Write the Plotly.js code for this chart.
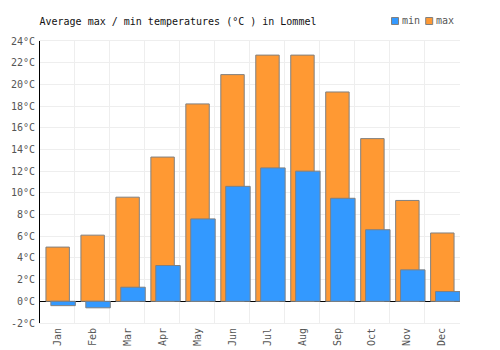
<!DOCTYPE html>
<html><head><meta charset="utf-8">
<script src="https://cdn.plot.ly/plotly-3.0.1.min.js"></script>
<style>body{margin:0;padding:0;background:#fff}#c{width:500px;height:350px}</style>
</head><body><div id="c"></div>
<script>
var months = ["Jan","Feb","Mar","Apr","May","Jun","Jul","Aug","Sep","Oct","Nov","Dec"];
var maxTemps = [5.0, 6.1, 9.6, 13.3, 18.2, 20.9, 22.7, 22.7, 19.3, 15.0, 9.3, 6.3];
var minTemps = [-0.4, -0.6, 1.3, 3.3, 7.6, 10.6, 12.3, 12.0, 9.5, 6.6, 2.9, 0.9];
var yTicks = [-2,0,2,4,6,8,10,12,14,16,18,20,22,24];
var yTickText = yTicks.map(function(v){return v+"°C";});
var seriesNames = ["min","max"];
var seriesColors = ["#3399FF","#FF9933"];

var font = "DejaVu Sans Mono, monospace";
var traces = [
  {type:"bar", name:seriesNames[1], x:months, y:maxTemps, width:0.67, offset:-0.33,
   marker:{color:seriesColors[1], line:{color:"#808080", width:1}}, hoverinfo:"y"},
  {type:"bar", name:seriesNames[0], x:months, y:minTemps, width:0.7, offset:-0.19,
   marker:{color:seriesColors[0], line:{color:"#808080", width:1}}, hoverinfo:"y"}
];

// custom compact legend (swatch + label) in paper coordinates
var pw = 420, ph = 282, ml = 40, mt = 41;
function px(x){return (x-ml)/pw;}
function py(y){return 1+(mt-y)/ph;}
var legendSwatchX = [391.5, 425.7];
var legendTextX = [400.5, 434.5];
var shapes = [], annotations = [];
for (var i=0;i<2;i++){
  shapes.push({type:"rect", xref:"paper", yref:"paper", x0:px(legendSwatchX[i]), x1:px(legendSwatchX[i]+7),
    y0:py(24.5), y1:py(17.5), fillcolor:seriesColors[i], line:{color:"#808080", width:1}});
  annotations.push({xref:"paper", yref:"paper", x:px(legendTextX[i]), y:py(21), xanchor:"left", yanchor:"middle",
    text:seriesNames[i], showarrow:false, borderpad:0, font:{family:font, size:10, color:"#555"}});
}

var layout = {
  width:500, height:350,
  margin:{l:ml, r:40, t:mt, b:27},
  paper_bgcolor:"#fff", plot_bgcolor:"#fff",
  barmode:"overlay",
  font:{family:font, size:10, color:"#555"},
  title:{text:"Average max / min temperatures (°C ) in Lommel", x:39.5/500, xanchor:"left", y:1-21/350, yanchor:"middle",
         font:{family:font, size:10, color:"#111"}},
  xaxis:{type:"category", tickson:"boundaries", showgrid:true, gridcolor:"#eeeeee", gridwidth:1,
         tickangle:-90, ticks:"", tickfont:{family:font, size:10, color:"#555"},
         showline:true, linecolor:"#eeeeee", mirror:true, zeroline:false, fixedrange:true},
  yaxis:{range:[-2,24], tickvals:yTicks, ticktext:yTickText, showgrid:true, gridcolor:"#eeeeee",
         zeroline:true, zerolinecolor:"#000", zerolinewidth:1, showline:true, linecolor:"#000", linewidth:1,
         ticks:"", ticklabelstandoff:2, tickfont:{family:font, size:10, color:"#555"}, fixedrange:true},
  showlegend:false,
  shapes:shapes,
  annotations:annotations
};
Plotly.newPlot("c", traces, layout, {displayModeBar:false, staticPlot:true});
</script></body></html>
